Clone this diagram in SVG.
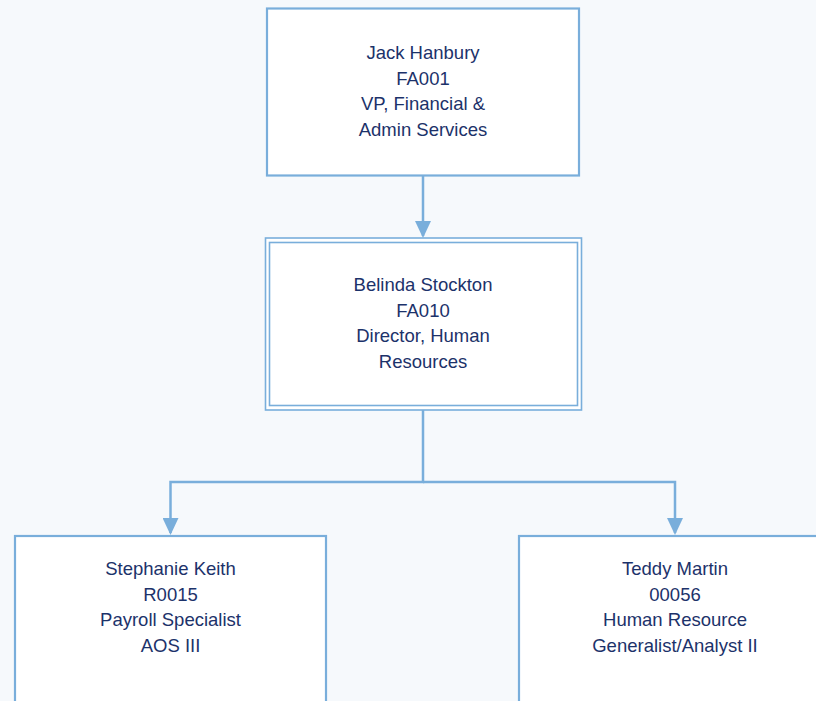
<svg xmlns="http://www.w3.org/2000/svg" width="816" height="701" viewBox="0 0 816 701">
<defs>
<style>
.box{fill:#ffffff;stroke:#79aedb;stroke-width:2.2}
.dbl{fill:none;stroke:#79aedb;stroke-width:1.6}
.conn{fill:none;stroke:#79aedb;stroke-width:2.5}
.t{font-family:"Liberation Sans",Arial,sans-serif;font-size:18.5px;fill:#1c326a;text-anchor:middle}
</style>
<marker id="arr" viewBox="0 0 17 16" refX="15" refY="8" markerWidth="17" markerHeight="16" markerUnits="userSpaceOnUse" orient="auto">
<path d="M0,0 L17,8 L0,16 Z" fill="#79aedb"/>
</marker>
</defs>
<rect width="816" height="701" fill="#f6f9fc"/>
<g id="connectors">
<path class="conn" d="M423,176 L423,236" marker-end="url(#arr)"/>
<path class="conn" d="M423,410 L423,482 L170.5,482 L170.5,533" marker-end="url(#arr)"/>
<path class="conn" d="M423,482 L675,482 L675,533" marker-end="url(#arr)"/>
</g>
<g id="node-jack">
<rect class="box" x="267" y="8.5" width="312" height="167"/>
<text class="t" x="423" y="59">Jack Hanbury</text>
<text class="t" x="423" y="84.7">FA001</text>
<text class="t" x="423" y="110.4">VP, Financial &amp;</text>
<text class="t" x="423" y="136">Admin Services</text>
</g>
<g id="node-belinda">
<rect fill="#ffffff" stroke="none" x="265.5" y="238" width="316" height="172"/>
<rect class="dbl" x="265.5" y="238" width="316" height="172"/>
<rect class="dbl" x="269.5" y="242.5" width="308" height="163"/>
<text class="t" x="423" y="291">Belinda Stockton</text>
<text class="t" x="423" y="316.7">FA010</text>
<text class="t" x="423" y="342.4">Director, Human</text>
<text class="t" x="423" y="368">Resources</text>
</g>
<g id="node-stephanie">
<rect class="box" x="15" y="536" width="311" height="180"/>
<text class="t" x="170.5" y="575">Stephanie Keith</text>
<text class="t" x="170.5" y="600.7">R0015</text>
<text class="t" x="170.5" y="626.4">Payroll Specialist</text>
<text class="t" x="170.5" y="652">AOS III</text>
</g>
<g id="node-teddy">
<rect class="box" x="519" y="536" width="312" height="180"/>
<text class="t" x="675" y="575">Teddy Martin</text>
<text class="t" x="675" y="600.7">00056</text>
<text class="t" x="675" y="626.4">Human Resource</text>
<text class="t" x="675" y="652">Generalist/Analyst II</text>
</g>
</svg>
